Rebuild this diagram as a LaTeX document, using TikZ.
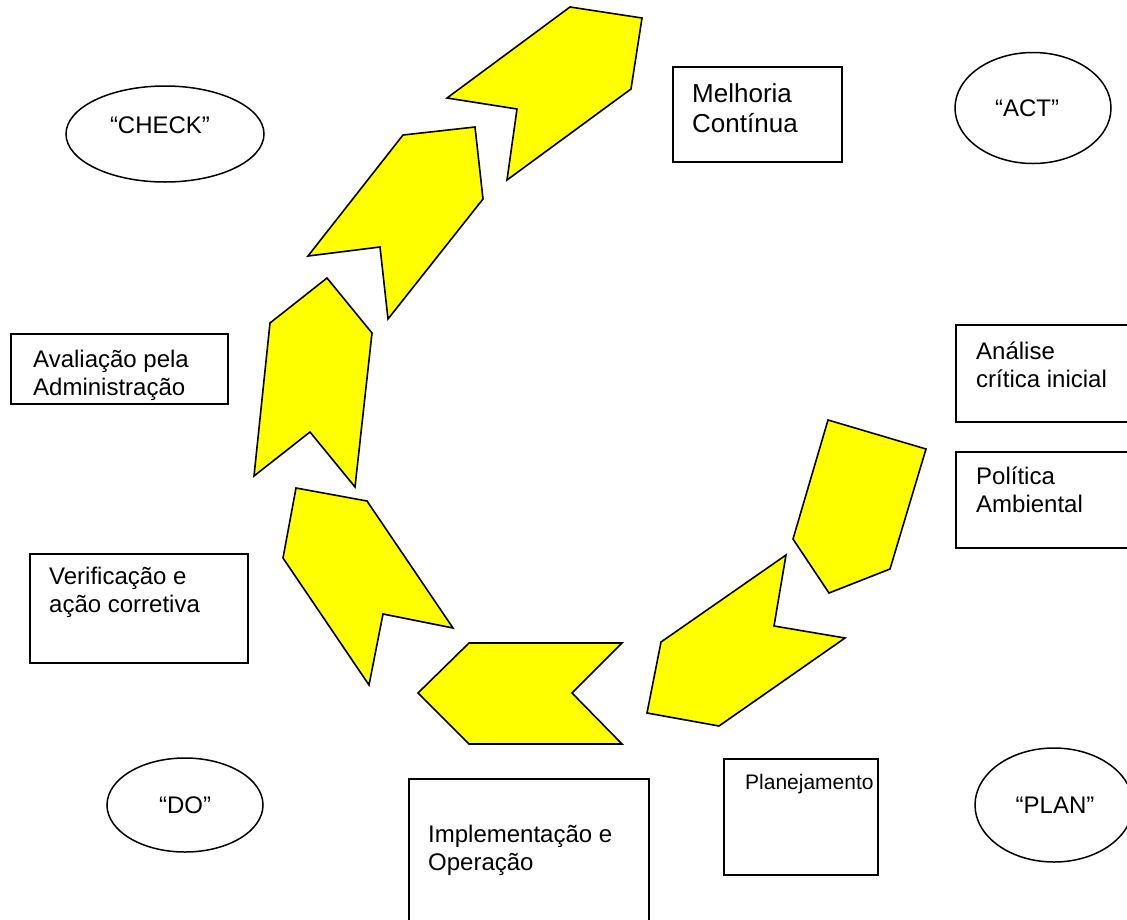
\documentclass[tikz,border=0pt]{standalone}
\usepackage{fontspec}
\setmainfont{Liberation Sans}
\usetikzlibrary{shapes.geometric}
\definecolor{amarelo}{RGB}{255,255,0}
\begin{document}
\begin{tikzpicture}[x=1pt,y=-1pt,
  seta/.style={draw=black,fill=amarelo,line width=1.6pt,line join=miter},
  caixa/.style={draw=black,line width=1.5pt,anchor=north west,inner sep=0pt},
  elipse/.style={draw=black,ellipse,line width=1.5pt,inner sep=0pt},
  rotulo/.style={anchor=base west,align=left,inner sep=0pt,font=\fontsize{24}{28}\selectfont},
  fase/.style={anchor=base,inner sep=0pt,font=\fontsize{24}{28}\selectfont}]
  \clip (0,0) rectangle (1127,919);
  % the PDCA arrows
  \draw[seta] (570,7) -- (642,18) -- (631,89) -- (507,180) -- (517,109) -- (447,98) -- cycle;
  \draw[seta] (403,135) -- (475,127) -- (483,199) -- (388,319) -- (380,247) -- (308,256) -- cycle;
  \draw[seta] (327,278) -- (372,333) -- (355,487) -- (310,432) -- (254,476) -- (270,323) -- cycle;
  \draw[seta] (296,488) -- (367,501) -- (453,628) -- (383,614) -- (369,685) -- (283,558) -- cycle;
  \draw[seta] (469,643) -- (622,643) -- (572,693) -- (622,744) -- (469,744) -- (418,693) -- cycle;
  \draw[seta] (786,555) -- (774,626) -- (845,638) -- (719,726) -- (647,713) -- (661,642) -- cycle;
  \draw[seta] (828,420) -- (926,449) -- (890,569) -- (829,593) -- (793,539) -- cycle;
  % boxes (multi-line text sits on the baseline of its last line)
  \node[caixa,minimum width=169,minimum height=95] (melhoria) at (672,66) {};
  \node[caixa,minimum width=200,minimum height=97] (analise) at (955,324) {};
  \node[caixa,minimum width=200,minimum height=96] (politica) at (955,451) {};
  \node[caixa,minimum width=217,minimum height=70] (avaliacao) at (10,333) {};
  \node[caixa,minimum width=218,minimum height=109] (verificacao) at (29,553) {};
  \node[caixa,minimum width=154,minimum height=116] (planejamento) at (723,758) {};
  \node[caixa,minimum width=240,minimum height=160] (implementacao) at (408,778) {};
  \node[rotulo,font=\fontsize{26}{30}\selectfont] (melhoria-txt) at (692,132) {Melhoria\\Contínua};
  \node[rotulo] (analise-txt) at (976,387) {Análise\\crítica inicial};
  \node[rotulo] (politica-txt) at (976,512) {Política\\Ambiental};
  \node[rotulo] (avaliacao-txt) at (33,395) {Avaliação pela\\Administração};
  \node[rotulo] (verificacao-txt) at (49,612) {Verificação e\\ação corretiva};
  \node[rotulo,font=\fontsize{21}{25}\selectfont] (planejamento-txt) at (745,789) {Planejamento};
  \node[rotulo] (implementacao-txt) at (428,870) {Implementação e\\Operação};
  % phases
  \node[elipse,minimum width=198,minimum height=96] (check) at (165,134) {};
  \node[elipse,minimum width=156,minimum height=111] (act) at (1033,108) {};
  \node[elipse,minimum width=156,minimum height=94] (do) at (185,805) {};
  \node[elipse,minimum width=158,minimum height=114] (plan) at (1054,805) {};
  \node[fase] (check-txt) at (160,133) {“CHECK”};
  \node[fase] (act-txt) at (1027,116) {“ACT”};
  \node[fase] (do-txt) at (185,813) {“DO”};
  \node[fase] (plan-txt) at (1055,813) {“PLAN”};
\end{tikzpicture}
\end{document}
